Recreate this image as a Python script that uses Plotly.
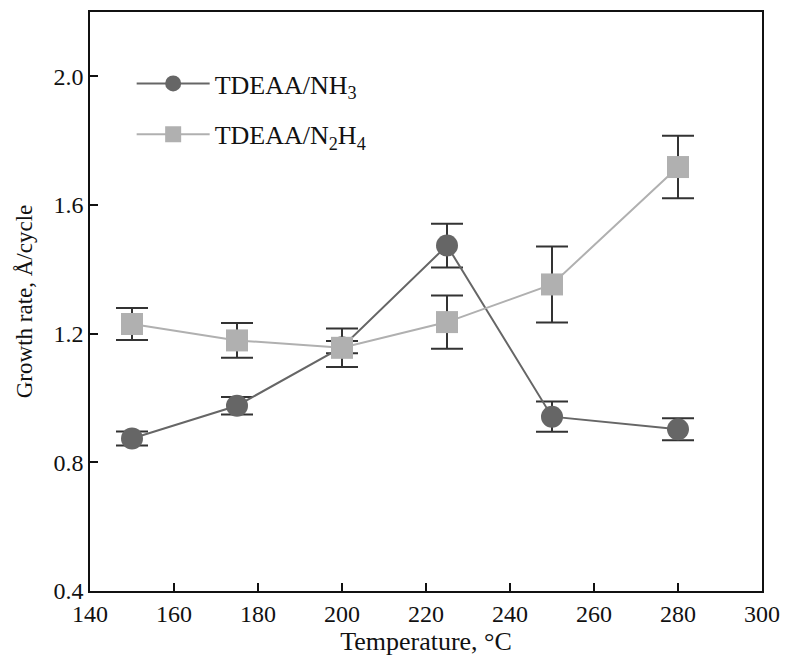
import plotly.graph_objects as go

temps = [150, 175, 200, 225, 250, 280]
nh3_rate = [0.874, 0.976, 1.158, 1.474, 0.942, 0.903]
nh3_err = [0.022, 0.027, 0.019, 0.068, 0.047, 0.034]
n2h4_rate = [1.230, 1.179, 1.156, 1.236, 1.353, 1.718]
n2h4_err = [0.050, 0.054, 0.060, 0.083, 0.118, 0.097]

x_ticks = [140, 160, 180, 200, 220, 240, 260, 280, 300]
y_ticks = [0.4, 0.8, 1.2, 1.6, 2.0]

font_family = "Liberation Serif"

fig = go.Figure()
fig.add_trace(go.Scatter(
    x=temps, y=nh3_rate, mode="lines+markers", name="TDEAA/NH<sub>3</sub>",
    legendgroup="a",
    line=dict(color="#666666", width=2),
    marker=dict(symbol="circle", size=22, color="#666666"),
    error_y=dict(type="data", array=nh3_err, visible=True, color="#333333", thickness=2, width=16),
))
fig.add_trace(go.Scatter(
    x=temps, y=n2h4_rate, mode="lines+markers", name="TDEAA/N<sub>2</sub>H<sub>4</sub>",
    legendgroup="b",
    line=dict(color="#b0b0b0", width=2),
    marker=dict(symbol="square", size=22, color="#b0b0b0"),
    error_y=dict(type="data", array=n2h4_err, visible=True, color="#333333", thickness=2, width=16),
))

fig.update_layout(
    width=790, height=660,
    margin=dict(l=90, r=22, t=10, b=69),
    paper_bgcolor="white", plot_bgcolor="white",
    font=dict(family=font_family, size=24, color="#111111"),
    showlegend=True,
    legend=dict(x=0.062, y=0.917, xanchor="left", yanchor="top",
                bgcolor="rgba(0,0,0,0)", font=dict(family=font_family, size=26), itemwidth=73,
                traceorder="grouped", tracegroupgap=14, itemsizing="trace"),
    xaxis=dict(range=[140, 300], tickvals=x_ticks, ticks="inside", ticklen=8,
               tickwidth=1.5, tickcolor="#111", showline=True, linecolor="#111",
               linewidth=1.5, mirror=True, showgrid=False, zeroline=False,
               title=dict(text="Temperature, °C", standoff=5,
                          font=dict(family=font_family, size=26)),
               tickfont=dict(family=font_family, size=24)),
    yaxis=dict(range=[0.4, 2.2], tickvals=y_ticks, tickformat=".1f", ticks="inside",
               ticklen=8, tickwidth=1.5, tickcolor="#111", showline=True,
               linecolor="#111", linewidth=1.5, mirror=True, showgrid=False,
               zeroline=False, title=dict(text="Growth rate, Å/cycle", standoff=14,
                                          font=dict(family=font_family, size=23)),
               tickfont=dict(family=font_family, size=24)),
)

fig.write_html("out.html")
